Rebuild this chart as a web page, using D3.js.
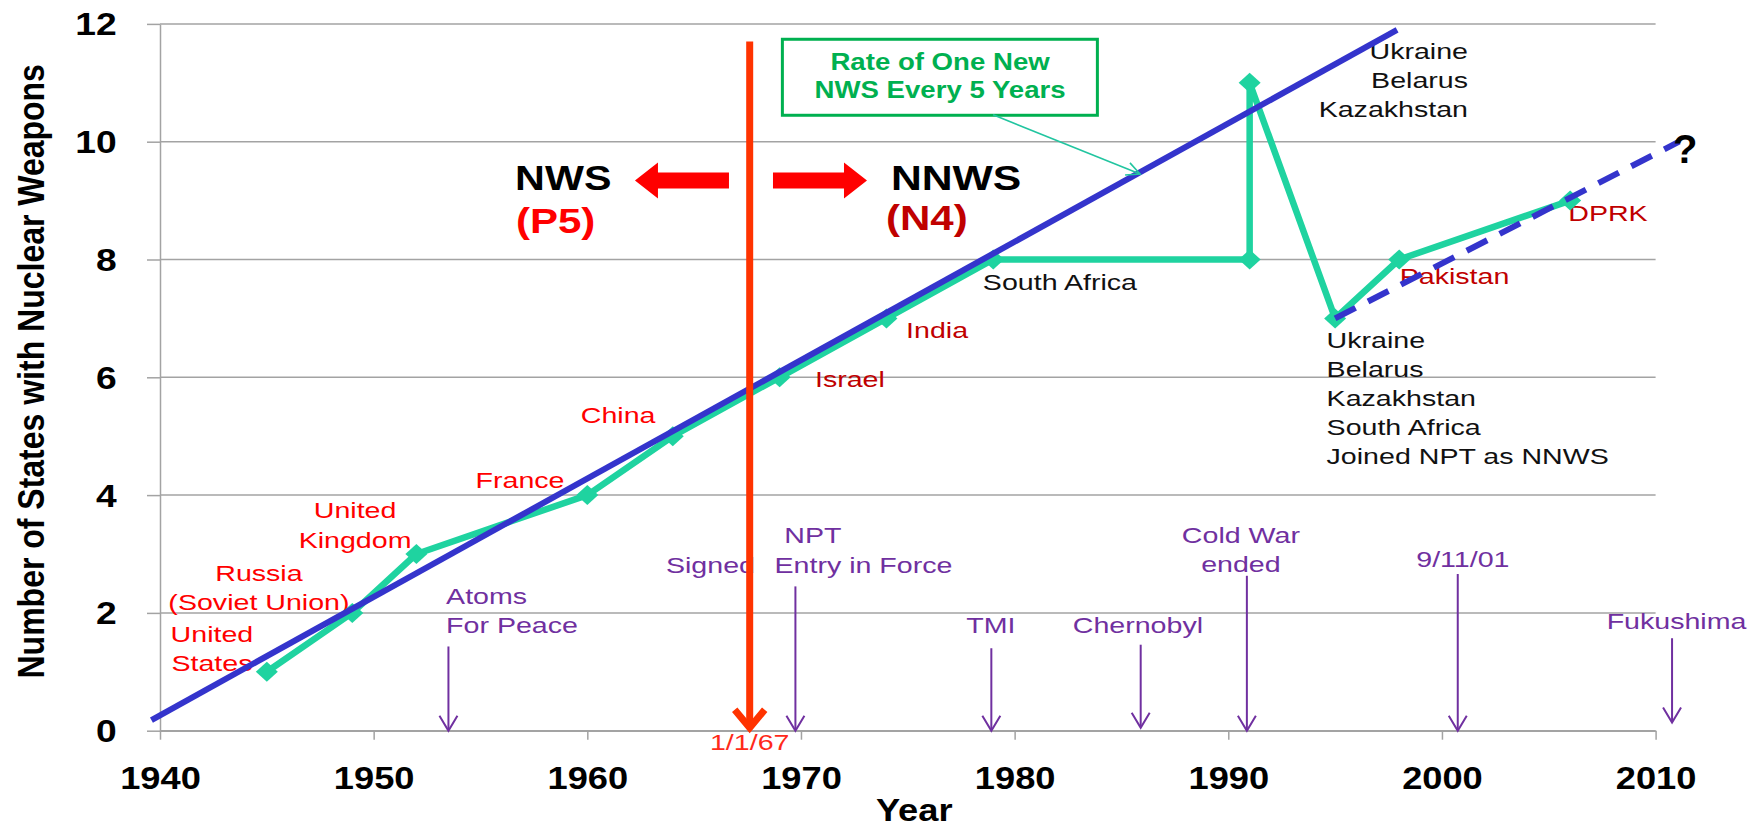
<!DOCTYPE html>
<html><head><meta charset="utf-8">
<script src="https://cdn.jsdelivr.net/npm/d3@7"></script>
<style>
body{margin:0;background:#fff;}
svg{display:block;}
text{font-family:"Liberation Sans",Arial,Helvetica,sans-serif;}
</style>
</head><body>
<svg id="chart" width="1760" height="830"></svg>
<script>
// ---------------- DATA ----------------
const stateYears  = [1945, 1949, 1952, 1960, 1964, 1969, 1974, 1979, 1991, 1991, 1995, 1998, 2006];
const stateCounts = [1, 2, 3, 4, 5, 6, 7, 8, 8, 11, 7, 8, 9];

const trendYears  = [1939.6, 1997.9];   // "one new NWS every 5 years"
const trendValues = [0.18, 11.9];
const projYears   = [1995, 2011.1];     // dashed projection
const projValues  = [7, 10.0];

const nptYear = 1967.6, nptTop = 11.7, nptLabel = "1/1/67";

const eventNames   = ["Atoms For Peace", "NPT Entry in Force", "TMI", "Chernobyl", "Cold War ended", "9/11/01", "Fukushima"];
const eventYears   = [1953.5, 1969.74, 1978.91, 1985.9, 1990.87, 2000.74, 2010.77];
const eventTops    = [1.43, 2.45, 1.40, 1.46, 2.63, 2.66, 1.57];
const eventBottoms = [0, 0, 0, 0.05, 0, 0, 0.14];

const xTickValues = [1940, 1950, 1960, 1970, 1980, 1990, 2000, 2010];
const xTickLabels = ["1940", "1950", "1960", "1970", "1980", "1990", "2000", "2010"];
const yTickValues = [0, 2, 4, 6, 8, 10, 12];
const yTickLabels = ["0", "2", "4", "6", "8", "10", "12"];

const xTitle = "Year";
const yTitle = "Number of States with Nuclear Weapons";

const stateLabelText = [
  ["United", "States"], ["Russia", "(Soviet Union)"], ["United", "Kingdom"], ["France"], ["China"],
  ["Israel"], ["India"], ["South Africa"], ["Pakistan"], ["DPRK"],
  ["Ukraine", "Belarus", "Kazakhstan"],
  ["Ukraine", "Belarus", "Kazakhstan", "South Africa", "Joined NPT as NNWS"]
];
const eventLabelText = [
  ["Atoms", "For Peace"], ["NPT"], ["Signed"], ["Entry in Force"], ["TMI"], ["Chernobyl"],
  ["Cold War", "ended"], ["9/11/01"], ["Fukushima"]
];
const boxText = ["Rate of One New", "NWS Every 5 Years"];

// ---------------- LAYOUT ----------------
const W = 1760, H = 830;
const svg = d3.select("#chart");
const x = d3.scaleLinear().domain([1940, 2010]).range([160, 1655.6]);
const y = d3.scaleLinear().domain([0, 12]).range([730.7, 23.9]);

const C = {
  grid: "#a3a3a3", green: "#1fd3a0", blue: "#3434cc", red: "#ff0000", darkRed: "#c00000",
  npt: "#ff3300", purple: "#7030a0", black: "#111", boxGreen: "#00b050", pointer: "#22c5a0"
};

// label anchors in data units: [year, value, anchor, colour]
const stateLabelPos = [
  [1942.43, 1.511, "middle", C.red], [1944.63, 2.547, "middle", C.red], [1949.13, 3.611, "middle", C.red],
  [1956.85, 4.120, "middle", C.red], [1961.44, 5.224, "middle", C.red],
  [1972.29, 5.840, "middle", C.darkRed], [1976.37, 6.662, "middle", C.darkRed],
  [1982.12, 7.482, "middle", C.black], [2000.59, 7.579, "middle", C.darkRed], [2007.77, 8.654, "middle", C.darkRed],
  [2001.22, 11.399, "end", C.black], [1994.60, 6.503, "start", C.black]
];
const eventLabelPos = [
  [1953.39, 2.151, "start"], [1970.56, 3.192, "middle"], [1963.68, 2.683, "start"], [1968.76, 2.683, "start"],
  [1978.89, 1.659, "middle"], [1985.77, 1.659, "middle"], [1990.59, 3.192, "middle"],
  [2000.98, 2.784, "middle"], [2010.98, 1.722, "middle"]
];

function txt(g, s, px, py, o) {
  o = o || {};
  return g.append("text")
    .attr("transform", `translate(${px},${py}) scale(${o.sx || 1.3},1)`)
    .attr("text-anchor", o.anchor || "middle")
    .style("font-size", (o.size || 22) + "px")
    .style("font-weight", o.weight || "normal")
    .style("fill", o.color || "#000")
    .text(s);
}
function multi(g, lines, px, py, o) {
  lines.forEach((s, i) => txt(g, s, px, py + i * (o.lh || 29.3), o));
}

// ---- gridlines ----
const gGrid = svg.append("g");
gGrid.selectAll("line").data(yTickValues).join("line")
  .attr("x1", x(1940)).attr("x2", x(2010))
  .attr("y1", d => y(d)).attr("y2", d => y(d))
  .attr("stroke", C.grid).attr("stroke-width", 1.5);

// ---- axes ----
const gY = svg.append("g").attr("transform", `translate(${x(1940)},0)`)
  .call(d3.axisLeft(y).tickValues(yTickValues).tickFormat((d, i) => yTickLabels[i]).tickSizeInner(13).tickSizeOuter(0));
const gX = svg.append("g").attr("transform", `translate(0,${y(0)})`)
  .call(d3.axisBottom(x).tickValues(xTickValues).tickFormat((d, i) => xTickLabels[i]).tickSizeInner(9).tickSizeOuter(0));
[gX, gY].forEach(g => {
  g.select(".domain").attr("stroke", C.grid).attr("stroke-width", 1.5);
  g.selectAll(".tick line").attr("stroke", C.grid).attr("stroke-width", 1.5);
  g.selectAll(".tick text").attr("x", 0).attr("y", 0).attr("dy", null)
    .style("font-size", "31px").style("font-weight", "bold").style("fill", "#000")
    .style("font-family", '"Liberation Sans",Arial,sans-serif');
});
gY.selectAll(".tick text").attr("text-anchor", "end").attr("transform", "translate(-43.3,11) scale(1.2,1)");
gX.selectAll(".tick text").attr("text-anchor", "middle").attr("transform", "translate(0,58.3) scale(1.17,1)");

// axis titles
txt(svg, xTitle, x(1975.3), 821, {size: 31, weight: "bold", sx: 1.17});
svg.append("text")
  .attr("transform", `translate(44,${(y(0) + y(12)) / 2 - 6}) scale(1.15,1) rotate(-90)`)
  .attr("text-anchor", "middle")
  .style("font-size", "32px").style("font-weight", "bold").style("fill", "#000")
  .text(yTitle);

// ---- labels ----
const gLab = svg.append("g");
stateLabelText.forEach((lines, i) => {
  const p = stateLabelPos[i];
  multi(gLab, lines, x(p[0]), y(p[1]), {anchor: p[2], color: p[3], size: 22, sx: 1.3, lh: i === 10 || i === 11 ? 29.1 : 29.5});
});
eventLabelText.forEach((lines, i) => {
  const p = eventLabelPos[i];
  multi(gLab, lines, x(p[0]), y(p[1]), {anchor: p[2], color: C.purple, size: 22, sx: 1.3, lh: 29});
});

// ---- event arrows ----
const gEv = svg.append("g").attr("stroke", C.purple).attr("stroke-width", 2).attr("fill", "none");
eventYears.forEach((yr, i) => {
  const ex = x(yr), yt = y(eventTops[i]), yb = y(eventBottoms[i]);
  gEv.append("line").attr("x1", ex).attr("x2", ex).attr("y1", yt).attr("y2", yb - 1);
  gEv.append("path").attr("d", `M${ex - 9},${yb - 15}L${ex},${yb}L${ex + 9},${yb - 15}`);
});

// ---- NWS / NNWS headings & block arrows ----
txt(svg, "NWS", x(1956.62), y(9.18), {size: 35, weight: "bold", sx: 1.18, anchor: "start", color: "#000"});
txt(svg, "(P5)", x(1956.66), y(8.45), {size: 35, weight: "bold", sx: 1.2, anchor: "start", color: C.red});
txt(svg, "NNWS", x(1974.21), y(9.18), {size: 35, weight: "bold", sx: 1.22, anchor: "start", color: "#000"});
txt(svg, "(N4)", x(1973.98), y(8.50), {size: 35, weight: "bold", sx: 1.2, anchor: "start", color: C.darkRed});

function blockArrow(tipYr, tailYr, val) {
  const xt = x(tipYr), xe = x(tailYr), yc = y(val), dir = xe > xt ? 1 : -1;
  const hb = xt + dir * 23;
  svg.append("path").attr("fill", C.red)
    .attr("d", `M${xt},${yc}L${hb},${yc - 18}L${hb},${yc - 8}L${xe},${yc - 8}L${xe},${yc + 8}L${hb},${yc + 8}L${hb},${yc + 18}Z`);
}
blockArrow(1962.23, 1966.63, 9.341);
blockArrow(1973.09, 1968.69, 9.341);

// ---- green series ----
const pts = stateYears.map((yr, i) => [x(yr), y(stateCounts[i])]);
svg.append("path").attr("d", d3.line()(pts))
  .attr("fill", "none").attr("stroke", C.green).attr("stroke-width", 6.5).attr("stroke-linejoin", "round");
svg.append("g").selectAll("path").data(pts).join("path")
  .attr("transform", d => `translate(${d[0]},${d[1]})`)
  .attr("d", "M0,-10L11,0L0,10L-11,0Z").attr("fill", C.green);

// ---- trend lines ----
svg.append("path").attr("d", d3.line()(trendYears.map((yr, i) => [x(yr), y(trendValues[i])])))
  .attr("fill", "none").attr("stroke", C.blue).attr("stroke-width", 6);
svg.append("path").attr("d", d3.line()(projYears.map((yr, i) => [x(yr), y(projValues[i])])))
  .attr("fill", "none").attr("stroke", C.blue).attr("stroke-width", 6).attr("stroke-dasharray", "23,14");

// ---- NPT signing line ----
{
  const nx = x(nptYear), yt = y(nptTop), yb = y(0);
  svg.append("line").attr("x1", nx).attr("x2", nx).attr("y1", yt).attr("y2", yb - 4)
    .attr("stroke", C.npt).attr("stroke-width", 7);
  svg.append("path").attr("d", `M${nx - 15},${yb - 21}L${nx},${yb - 3}L${nx + 15},${yb - 21}`)
    .attr("fill", "none").attr("stroke", C.npt).attr("stroke-width", 7);
  txt(svg, nptLabel, nx, y(-0.328), {size: 22, sx: 1.3, color: "#ff2a1a"});
}

// ---- rate box + pointer ----
{
  const bx = x(1969.13), by = y(11.739);
  svg.append("rect").attr("x", bx).attr("y", by).attr("width", 315).attr("height", 76)
    .attr("fill", "#fff").attr("stroke", C.boxGreen).attr("stroke-width", 3);
  boxText.forEach((s, i) => txt(svg, s, x(1976.51), y([11.217, 10.737][i]), {size: 24, weight: "bold", sx: 1.15, color: C.boxGreen}));
  const p0 = [x(1978.99), y(10.456)], p1 = [x(1985.87), y(9.452)];
  svg.append("line").attr("x1", p0[0]).attr("y1", p0[1]).attr("x2", p1[0]).attr("y2", p1[1])
    .attr("stroke", C.pointer).attr("stroke-width", 1.6);
  const ang = Math.atan2(p1[1] - p0[1], p1[0] - p0[0]), L = 15, a = 0.45;
  const h1 = [p1[0] - L * Math.cos(ang - a), p1[1] - L * Math.sin(ang - a)];
  const h2 = [p1[0] - L * Math.cos(ang + a), p1[1] - L * Math.sin(ang + a)];
  svg.append("path").attr("d", `M${h1}L${p1}L${h2}`).attr("fill", "none")
    .attr("stroke", C.pointer).attr("stroke-width", 1.6);
}

// question mark
txt(svg, "?", x(2010.81), y(9.638), {size: 40, weight: "bold", sx: 1.0, anchor: "start", color: "#000"});
</script>
</body></html>
